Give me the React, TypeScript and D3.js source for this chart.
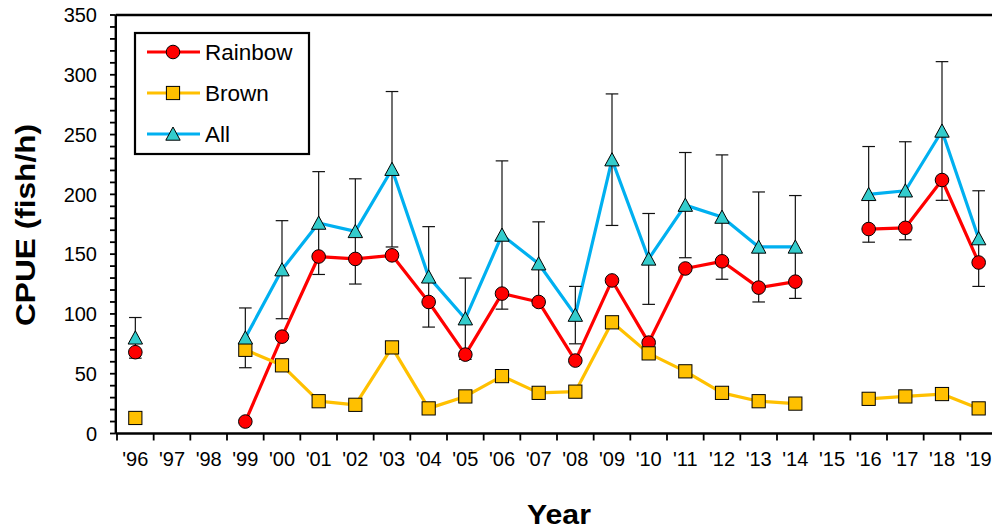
import React from "react";
import { scaleBand, scaleLinear, line, range } from "d3";

const years = ["'96", "'97", "'98", "'99", "'00", "'01", "'02", "'03", "'04", "'05", "'06", "'07",
  "'08", "'09", "'10", "'11", "'12", "'13", "'14", "'15", "'16", "'17", "'18", "'19"];

const rainbow = [68, null, null, 10, 81, 148, 146, 149, 110, 66, 117, 110, 61, 128, 76, 138, 144, 122, 127, null, 171, 172, 212, 143];
const brown = [13, null, null, 70, 57, 27, 24, 72, 21, 31, 48, 34, 35, 93, 67, 52, 34, 27, 25, null, 29, 31, 33, 21];
const all = [80, null, null, 80, 137, 176, 169, 221, 131, 96, 166, 142, 99, 229, 146, 191, 181, 156, 156, null, 200, 203, 253, 163];
const allErr = [17, null, null, 25, 41, 43, 44, 65, 42, 34, 62, 35, 24, 55, 38, 44, 52, 46, 43, null, 40, 41, 58, 40];

const yTicks = [0, 50, 100, 150, 200, 250, 300, 350];
const seriesNames = ["Rainbow", "Brown", "All"];

const width = 992;
const height = 531;
const margin = { top: 15, left: 117, bottom: 97.5 };
const plotRight = 997; // the frame runs past the window edge

const RED = "#FF0000";
const GOLD = "#FFC000";
const BLUE = "#00B0F0";
const TEAL = "#33CCCC";
const font = "'Liberation Sans', Arial, sans-serif";

const Marker = ({ kind, x, y }) => {
  if (kind === "circle")
    return <circle cx={x} cy={y} r={6.8} fill={RED} stroke="#000" strokeWidth={1} />;
  if (kind === "square")
    return <rect x={x - 6.6} y={y - 6.6} width={13.2} height={13.2} fill={GOLD} stroke="#000" strokeWidth={1} />;
  return (
    <path d={`M${x},${y - 7}L${x + 7.2},${y + 6.2}L${x - 7.2},${y + 6.2}Z`} fill={TEAL} stroke="#000" strokeWidth={1} />
  );
};

export default function App() {
  const xScale = scaleBand().domain(years).range([margin.left, plotRight]).padding(0);
  const yScale = scaleLinear().domain([0, 350]).range([height - margin.bottom, margin.top]);
  const cx = (i) => xScale(years[i]) + xScale.bandwidth() / 2;

  const lineGen = line()
    .defined((d) => d != null)
    .x((d, i) => cx(i))
    .y((d) => yScale(d));

  const series = [
    { name: "Rainbow", values: rainbow, color: RED, kind: "circle" },
    { name: "Brown", values: brown, color: GOLD, kind: "square" },
    { name: "All", values: all, color: BLUE, kind: "triangle" },
  ];

  const y0 = yScale(0);

  return (
    <svg width={width} height={height} style={{ position: "absolute", left: 0, top: 0 }} fontFamily={font}>
      <rect width={width} height={height} fill="#fff" />

      {/* series lines */}
      {series.map((s) => (
        <path key={s.name} d={lineGen(s.values)} fill="none" stroke={s.color} strokeWidth={3.2} strokeLinejoin="round" />
      ))}

      {/* error bars on All */}
      {all.map((v, i) =>
        v == null || allErr[i] == null ? null : (
          <g key={i} stroke="#111" strokeWidth={1.2}>
            <line x1={cx(i)} x2={cx(i)} y1={yScale(v + allErr[i])} y2={yScale(v - allErr[i])} />
            <line x1={cx(i) - 6.3} x2={cx(i) + 6.3} y1={yScale(v + allErr[i])} y2={yScale(v + allErr[i])} />
            <line x1={cx(i) - 6.3} x2={cx(i) + 6.3} y1={yScale(v - allErr[i])} y2={yScale(v - allErr[i])} />
          </g>
        )
      )}

      {/* markers */}
      {series.map((s) =>
        s.values.map((v, i) => (v == null ? null : <Marker key={s.name + i} kind={s.kind} x={cx(i)} y={yScale(v)} />))
      )}

      {/* frame */}
      <line x1={margin.left - 1.2} x2={plotRight} y1={margin.top} y2={margin.top} stroke="#000" strokeWidth={2.4} />
      <line x1={margin.left - 1.2} x2={plotRight} y1={y0} y2={y0} stroke="#000" strokeWidth={2.4} />
      <line x1={margin.left - 1.2} x2={margin.left - 1.2} y1={margin.top} y2={y0} stroke="#000" strokeWidth={2.4} />

      {/* y ticks */}
      {range(0, 351, 10).map((t) => (
        <line key={t} x1={margin.left - 7} x2={margin.left - 1.2} y1={yScale(t)} y2={yScale(t)} stroke="#000" strokeWidth={1.8} />
      ))}
      {yTicks.map((t) => (
        <text key={t} x={97} y={yScale(t)} dy="0.36em" textAnchor="end" fontSize={20} fill="#000">
          {t}
        </text>
      ))}

      {/* x ticks at category edges */}
      {range(0, years.length + 1).map((i) => {
        const x = margin.left + i * xScale.bandwidth();
        return <line key={i} x1={x} x2={x} y1={y0} y2={y0 + 7} stroke="#000" strokeWidth={1.8} />;
      })}
      {years.map((yr, i) => (
        <text key={yr} x={cx(i)} y={466} textAnchor="middle" fontSize={20} fill="#000">
          {yr}
        </text>
      ))}

      {/* axis titles */}
      <text transform="translate(559,524) scale(1.12,1)" textAnchor="middle" fontSize={27} fontWeight="bold">
        Year
      </text>
      <text transform="translate(35,225) rotate(-90) scale(1.13,1)" textAnchor="middle" fontSize={28} fontWeight="bold">
        CPUE (fish/h)
      </text>

      {/* legend */}
      <rect x={135} y={33} width={174} height={121} fill="#fff" stroke="#000" strokeWidth={2.2} />
      {series.map((s, i) => {
        const ly = 52 + i * 41;
        return (
          <g key={s.name}>
            <line x1={147} x2={200} y1={ly} y2={ly} stroke={s.color} strokeWidth={3.2} />
            <Marker kind={s.kind} x={173} y={ly} />
            <text x={205} y={ly} dy="0.36em" fontSize={22.5} fill="#000">
              {seriesNames[i]}
            </text>
          </g>
        );
      })}
    </svg>
  );
}
